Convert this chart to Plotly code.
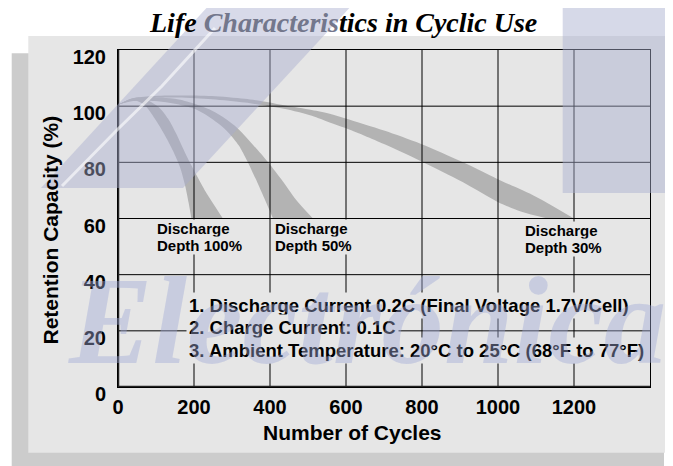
import plotly.graph_objects as go

# ---------------- data ----------------
X_TICKS = [0, 200, 400, 600, 800, 1000, 1200]
Y_TICKS = [0, 20, 40, 60, 80, 100, 120]
X_MAX = 1400
Y_MAX = 120

# Discharge depth 100 % band (outer = upper/right edge, inner = lower/left edge)
D100_OUT_X = [0, 30, 55, 80, 110, 132, 152, 170, 189, 210, 233, 255, 276]
D100_OUT_Y = [100.5, 102.5, 103.2, 102.0, 99.3, 95.5, 90.5, 85.3, 80.0, 74.6, 69.0, 64.4, 60.0]
D100_IN_X = [0, 30, 50, 71, 97, 124, 145, 163, 177, 186, 193]
D100_IN_Y = [100.5, 101.8, 101.8, 100.2, 95.5, 89.5, 84.0, 78.3, 71.5, 65.5, 60.0]

# Discharge depth 50 % band
D50_OUT_X = [0, 40, 115, 160, 203, 240, 273, 311, 355, 395, 434, 469, 513]
D50_OUT_Y = [100.5, 102.6, 103.0, 102.4, 100.8, 98.9, 96.4, 92.6, 86.3, 80.0, 73.2, 66.6, 60.0]
D50_IN_X = [0, 40, 115, 160, 203, 235, 264, 292, 318, 340, 362, 385, 408]
D50_IN_Y = [100.5, 101.8, 101.6, 100.6, 99.0, 96.6, 93.8, 90.4, 86.0, 80.5, 74.2, 67.2, 60.0]

# Discharge depth 30 % band
D30_OUT_X = [0, 36, 89, 159, 247, 334, 396, 440, 510, 557, 599, 700, 796, 908, 998, 1101, 1200]
D30_OUT_Y = [100.5, 102.6, 103.6, 103.8, 103.6, 102.6, 101.4, 100.2, 98.6, 97.3, 95.6, 91.3, 86.6, 80.0, 74.1, 67.7, 60.0]
D30_IN_X = [0, 36, 89, 159, 247, 334, 396, 440, 510, 557, 599, 700, 796, 908, 998, 1060, 1130]
D30_IN_Y = [100.5, 102.0, 102.9, 103.1, 102.5, 101.3, 100.0, 99.0, 96.6, 94.2, 92.2, 86.5, 80.5, 72.9, 66.0, 62.5, 60.0]

DEPTH_LABELS = [("Discharge", "Depth 100%"), ("Discharge", "Depth 50%"), ("Discharge", "Depth 30%")]
NOTES = [
    "1. Discharge Current 0.2C (Final Voltage 1.7V/Cell)",
    "2. Charge Current: 0.1C",
    "3. Ambient Temperature: 20°C to 25°C (68°F to 77°F)",
]
TITLE = "Life Characteristics in Cyclic Use"
X_TITLE = "Number of Cycles"
Y_TITLE = "Retention Capacity (%)"
WATERMARK = "Electrónica"

# ---------------- layout helpers ----------------
# the page body adds an 8px margin, so the figure is drawn 8px smaller and
# window pixel positions are converted accordingly
OFF = 8
WIN_W, WIN_H = 673, 466
W, H = WIN_W - OFF, WIN_H - OFF
ML, MR, MT, MB = 118 - OFF, 23, 50 - OFF, 79
PW, PH = W - ML - MR, H - MT - MB


def px_x(px):
    return (px - OFF - ML) / PW


def px_y(py):
    return (H - MB - (py - OFF)) / PH


BAND = "#b3b3b3"
PANEL = "#e6e6e6"
SANS = "Liberation Sans"
SERIF = "Liberation Serif"

fig = go.Figure()

for ox, oy, ix, iy in [
    (D100_OUT_X, D100_OUT_Y, D100_IN_X, D100_IN_Y),
    (D50_OUT_X, D50_OUT_Y, D50_IN_X, D50_IN_Y),
    (D30_OUT_X, D30_OUT_Y, D30_IN_X, D30_IN_Y),
]:
    fig.add_trace(go.Scatter(
        x=ix, y=iy, mode="lines", line=dict(width=0, color=BAND, shape="spline", smoothing=0.8),
        hoverinfo="skip", showlegend=False))
    fig.add_trace(go.Scatter(
        x=ox, y=oy, mode="lines", fill="tonexty", fillcolor=BAND,
        line=dict(width=0, color=BAND, shape="spline", smoothing=0.8),
        hoverinfo="skip", showlegend=False))

# grid drawn above the bands
gx, gy = [], []
for xv in X_TICKS[1:]:
    gx += [xv, xv, None]
    gy += [0, Y_MAX, None]
for yv in Y_TICKS[1:-1]:
    gx += [0, X_MAX, None]
    gy += [yv, yv, None]
fig.add_trace(go.Scatter(x=gx, y=gy, mode="lines", line=dict(color="#000000", width=1),
                         hoverinfo="skip", showlegend=False))
# heavier left and bottom axes
fig.add_trace(go.Scatter(x=[0, 0, None, 0, X_MAX], y=[Y_MAX, 0, None, 0, 0], mode="lines",
                         line=dict(color="#222222", width=2.5), hoverinfo="skip",
                         showlegend=False, cliponaxis=False))

shapes = [
    dict(type="rect", xref="paper", yref="paper", x0=px_x(11.7), x1=px_x(664),
         y0=px_y(480), y1=px_y(53.3), fillcolor="#cccccc", line=dict(width=0), layer="below"),
    dict(type="rect", xref="paper", yref="paper", x0=px_x(28.3), x1=px_x(690),
         y0=px_y(452.7), y1=px_y(36), fillcolor=PANEL, line=dict(width=0), layer="below"),
    dict(type="rect", xref="paper", yref="paper", x0=px_x(562.7), x1=px_x(690),
         y0=px_y(193), y1=px_y(-10), fillcolor="rgba(168,174,206,0.47)", line=dict(width=0),
         layer="above"),
]
sw = [(41, 188), (183, 188), (366, -10), (223, -10)]
path = "M " + " L ".join(f"{px_x(a):.5f},{px_y(b):.5f}" for a, b in sw) + " Z"
shapes.append(dict(type="path", xref="paper", yref="paper", path=path,
                   fillcolor="rgba(168,174,206,0.45)", line=dict(width=0), layer="above"))
streak = [(62, 186), (118, 129), (162, 86), (215, 28)]
spath = "M " + " L ".join(f"{px_x(a):.5f},{px_y(b):.5f}" for a, b in streak)
shapes.append(dict(type="path", xref="paper", yref="paper", path=spath,
                   line=dict(color="rgba(255,255,255,0.6)", width=3), layer="above"))

ann = []
ann.append(dict(xref="paper", yref="paper", x=px_x(343), y=px_y(22), xanchor="center",
                yanchor="middle", showarrow=False,
                text="<b><i>Life <span style='color:#73778c'>Characteris</span>tics in Cyclic Use</i></b>",
                font=dict(family=SERIF, size=28, color="#000000")))
ann.append(dict(xref="paper", yref="paper", x=px_x(49.5), y=px_y(230), xanchor="center",
                yanchor="middle", showarrow=False, textangle=-90, text=f"<b>{Y_TITLE}</b>",
                font=dict(family=SANS, size=21, color="#000000")))
ann.append(dict(xref="paper", yref="paper", x=px_x(352), y=px_y(432), xanchor="center",
                yanchor="middle", showarrow=False, text=f"<b>{X_TITLE}</b>",
                font=dict(family=SANS, size=21, color="#000000")))

label_pos = [(156, 228), (273.5, 228), (523.6, 230)]
for (l1, l2), (lx, ly) in zip(DEPTH_LABELS, label_pos):
    for k, t in enumerate([l1, l2]):
        ann.append(dict(xref="paper", yref="paper", x=px_x(lx), y=px_y(ly + 17 * k),
                        xanchor="left", yanchor="middle", showarrow=False, text=f"<b>{t}</b>",
                        bgcolor=PANEL, borderpad=0,
                        font=dict(family=SANS, size=15, color="#000000")))

for k, t in enumerate(NOTES):
    ann.append(dict(xref="paper", yref="paper", x=px_x(186), y=px_y(305 + 22.5 * k),
                    xanchor="left", yanchor="middle", showarrow=False, text=f"<b>{t}</b>",
                    bgcolor=PANEL, borderpad=2,
                    font=dict(family=SANS, size=18.5, color="#000000")))

ann.append(dict(xref="paper", yref="paper", x=px_x(367), y=px_y(321), xanchor="center",
                yanchor="middle", showarrow=False, text=f"<b><i>{WATERMARK}</i></b>",
                font=dict(family=SERIF, size=125, color="rgba(160,170,215,0.42)")))

fig.update_layout(
    width=W, height=H, margin=dict(l=ML, r=MR, t=MT, b=MB),
    paper_bgcolor="#ffffff", plot_bgcolor="rgba(0,0,0,0)",
    shapes=shapes, annotations=ann, showlegend=False,
    xaxis=dict(range=[0, X_MAX], tickvals=X_TICKS, ticktext=[str(v) for v in X_TICKS],
               showgrid=False, zeroline=False, showline=True, mirror=True,
               linecolor="#000000", linewidth=1, ticks="", ticklabelstandoff=2,
               tickfont=dict(family=SANS, size=20, color="#000000", weight="bold")),
    yaxis=dict(range=[0, Y_MAX], tickvals=Y_TICKS, ticktext=[str(v) for v in Y_TICKS],
               showgrid=False, zeroline=False, showline=True, mirror=True,
               linecolor="#000000", linewidth=1, ticks="", ticklabelstandoff=7,
               ticklabelshift=7,
               tickfont=dict(family=SANS, size=20, color="#000000", weight="bold")),
)

fig.write_html("out.html")
